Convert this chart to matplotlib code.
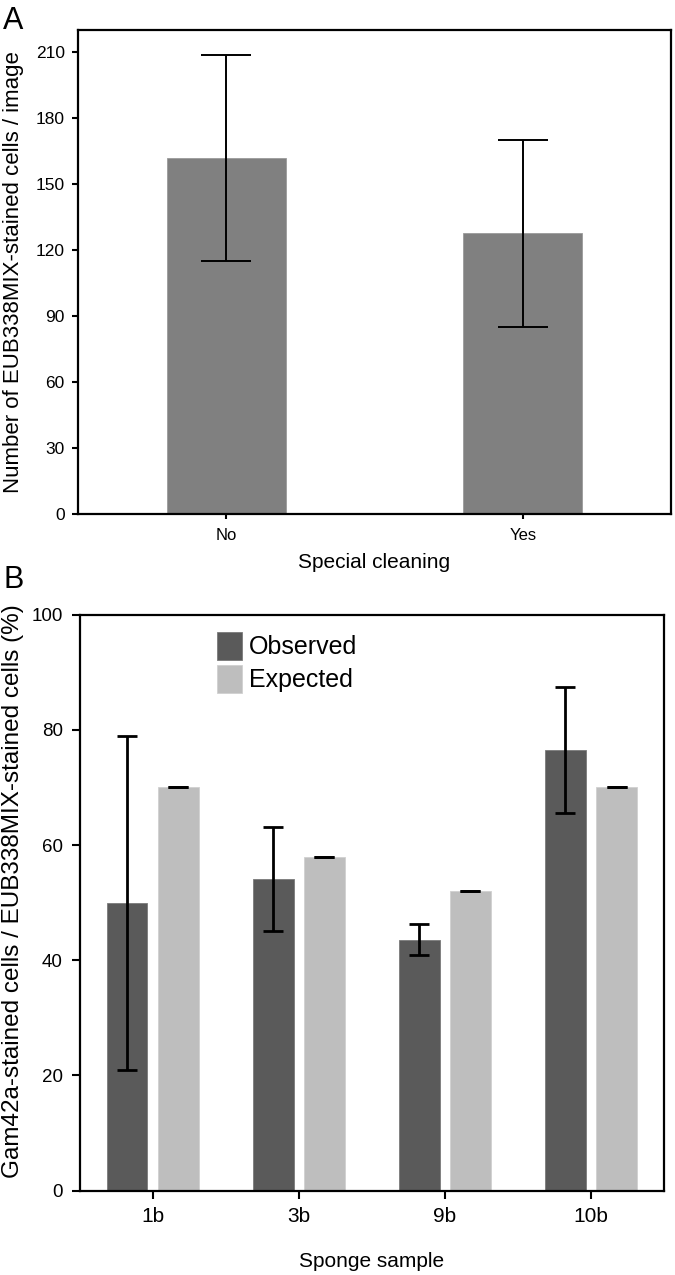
import matplotlib
matplotlib.use("Agg")
import matplotlib.pyplot as plt
import numpy as np

plt.rcParams['font.family'] = ['Liberation Sans', 'DejaVu Sans']

# panel A data
cleaning = ['No', 'Yes']
eub_counts = [161.8, 127.5]
eub_err = [46.8, 42.4]

# panel B data
samples = ['1b', '3b', '9b', '10b']
observed = [50.0, 54.1, 43.6, 76.5]
observed_err = [29.0, 9.0, 2.7, 11.0]
expected = [70.0, 58.0, 52.0, 70.0]
expected_err = [0.0, 0.0, 0.0, 0.0]

fig = plt.figure(figsize=(6.75, 12.75), dpi=100)

def style_axes(ax, ticklen):
    for sp in ax.spines.values():
        sp.set_linewidth(1.6)
    ax.tick_params(direction='out', length=ticklen, width=1.5,
                   top=False, right=False)

# ---- panel A ----
ax = fig.add_axes([0.1156, 0.5972, 0.8785, 0.3793])
x = np.arange(len(cleaning))
ax.bar(x, eub_counts, width=0.4, color='#808080', edgecolor='#9a9a9a',
       linewidth=0.6, zorder=2)
ax.errorbar(x, eub_counts, yerr=eub_err, fmt='none', ecolor='black',
            elinewidth=1.4, capsize=18, capthick=1.4, zorder=3)
ax.set_xlim(-0.5, 1.5)
ax.set_ylim(0, 220)
ax.set_yticks(np.arange(0, 211, 30))
ax.set_xticks(x)
ax.set_xticklabels(cleaning)
style_axes(ax, 4.5)
ax.tick_params(axis='y', labelsize=12.5, pad=5)
ax.tick_params(axis='x', labelsize=12, pad=7, length=3.5)
ax.set_ylabel('Number of EUB338MIX-stained cells / image', fontsize=16,
              va='center')
ax.yaxis.set_label_coords(-0.108, 0.5)
ax.set_xlabel('Special cleaning', fontsize=15, va='center')
ax.xaxis.set_label_coords(0.5, -0.102)
fig.text(0.005, 0.995, 'A', fontsize=22, va='top', ha='left')

# ---- panel B ----
ax2 = fig.add_axes([0.1178, 0.0661, 0.8659, 0.4519])
x2 = np.arange(len(samples))
off = 0.175
w = 0.28
ax2.bar(x2 - off, observed, width=w, color='#5a5a5a', edgecolor='#7a7a7a',
        linewidth=0.6, label='Observed', zorder=2)
ax2.bar(x2 + off, expected, width=w, color='#bebebe', edgecolor='#d0d0d0',
        linewidth=0.6, label='Expected', zorder=2)
ax2.errorbar(x2 - off, observed, yerr=observed_err, fmt='none', ecolor='black',
             elinewidth=2.0, capsize=7, capthick=2.0, zorder=3)
ax2.errorbar(x2 + off, expected, yerr=expected_err, fmt='none', ecolor='black',
             elinewidth=2.0, capsize=7, capthick=2.0, zorder=3)
ax2.set_xlim(-0.5, 3.5)
ax2.set_ylim(0, 100)
ax2.set_yticks(np.arange(0, 101, 20))
ax2.set_xticks(x2)
ax2.set_xticklabels(samples)
style_axes(ax2, 6)
ax2.tick_params(axis='y', labelsize=13.5, pad=6)
ax2.tick_params(axis='x', labelsize=15, pad=6)
ax2.set_ylabel('Gam42a-stained cells / EUB338MIX-stained cells (%)',
               fontsize=17.5, va='center')
ax2.yaxis.set_label_coords(-0.114, 0.52)
ax2.set_xlabel('Sponge sample', fontsize=15, va='center')
ax2.xaxis.set_label_coords(0.5, -0.123)
ax2.legend(loc='upper left', bbox_to_anchor=(0.205, 1.0), frameon=False,
           fontsize=18, handlelength=1.0, handleheight=1.35,
           labelspacing=0.2, handletextpad=0.3, borderaxespad=0.3)
fig.text(0.005, 0.557, 'B', fontsize=22, va='top', ha='left')

fig.savefig('out.png', dpi=100)
